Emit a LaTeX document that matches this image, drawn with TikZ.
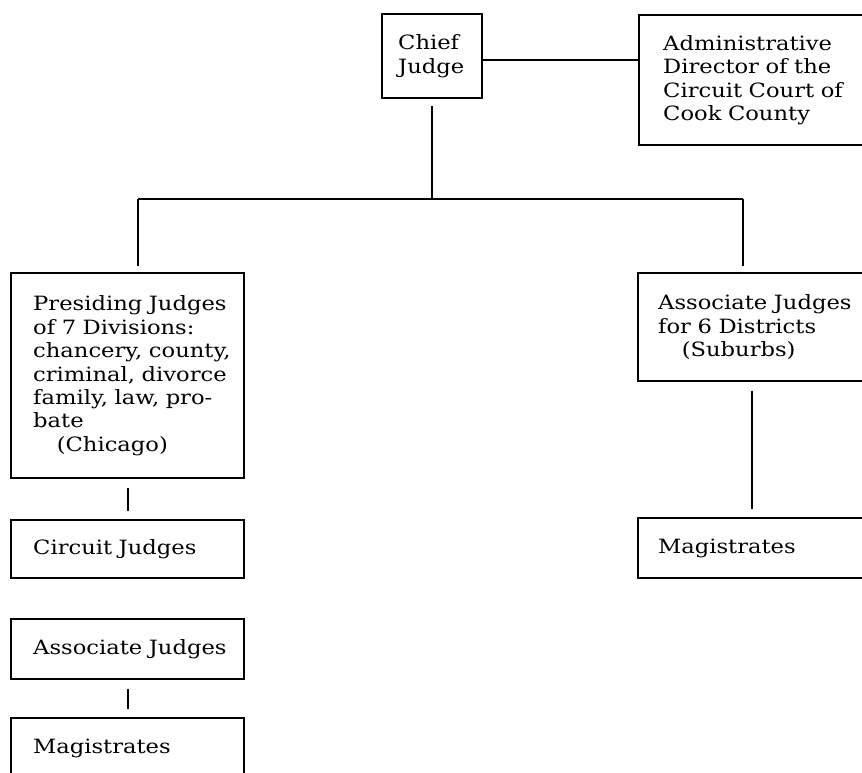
\documentclass[tikz,border=0pt]{standalone}
\usepackage{fontspec}
\setmainfont{DejaVu Serif}[FakeStretch=1.15]
\newcommand{\chartfont}{\fontsize{14}{16.7}\selectfont\spaceskip=0.42em\hyphenpenalty=10000}
\tikzset{
    box/.style={draw, line width=1.7pt, anchor=north west, align=left, inner ysep=0pt, font=\chartfont},
    link/.style={line width=1.7pt},
}
\begin{document}
\begin{tikzpicture}[line cap=butt, line join=miter, x=0.025cm, y=-0.025cm]
                \useasboundingbox (0, 0) rectangle (862, 773);
                \clip (0, 0) rectangle (862, 773);

                % Top
                \node[box, inner xsep=0.4cm, text width=1.7cm, minimum height=2.1cm] (chief) at (381, 13) {Chief\\Judge};
                \node[box, inner xsep=0.6cm, text width=6cm, minimum height=3.25cm] (admin) at (638, 14)
                    {Administrative\\Director~of~the\\Circuit~Court~of\\Cook~County};

                % Chicago
                \node[box, inner xsep=0.55cm, text width=4.725cm, minimum height=5.125cm] (presiding) at (10, 272)
                    {Presiding~Judges\\of~7~Divisions:\\chancery,~county,\\criminal,~divorce\\family,~law,~pro-\\bate\\\hspace*{1.2em}(Chicago)};
                \node[box, inner xsep=0.55cm, text width=4.725cm, minimum height=1.45cm] (circuit) at (10, 519) {Circuit~Judges};
                \node[box, inner xsep=0.55cm, text width=4.725cm, minimum height=1.5cm] (assocA) at (10, 618) {Associate~Judges};
                \node[box, inner xsep=0.55cm, text width=4.725cm, minimum height=1.5cm] (magA) at (10, 717) {Magistrates};

                % Suburbs
                \node[box, inner xsep=0.5cm, text width=6cm, minimum height=2.7cm] (assocB) at (637, 272)
                    {Associate~Judges\\for~6~Districts\\\hspace*{1.2em}(Suburbs)};
                \node[box, inner xsep=0.5cm, text width=6cm, minimum height=1.5cm] (magB) at (637, 517) {Magistrates};

                % Connectors
                \coordinate (barL) at (138, 199);
                \coordinate (barR) at (743, 199);
                \coordinate (drop) at (chief.south |- barL);
                \coordinate (side) at (752, 0);
                \draw[link] (chief.east |- 0, 60) -- (admin.west |- 0, 60);
                \draw[link] ([yshift=-5]chief.south) -- (drop);
                \draw[link] (barL) -- (barR);
                \draw[link] (barL) -- ([yshift=4]barL |- presiding.north);
                \draw[link] (barR) -- ([yshift=4]barR |- assocB.north);
                \draw[link] ([yshift=-6]presiding.south) -- ([yshift=6]circuit.north);
                \draw[link] ([yshift=-6]assocA.south) -- ([yshift=6]magA.north);
                \draw[link] ([yshift=-6]side |- assocB.south) -- ([yshift=6]side |- magB.north);
            \end{tikzpicture}
\end{document}
